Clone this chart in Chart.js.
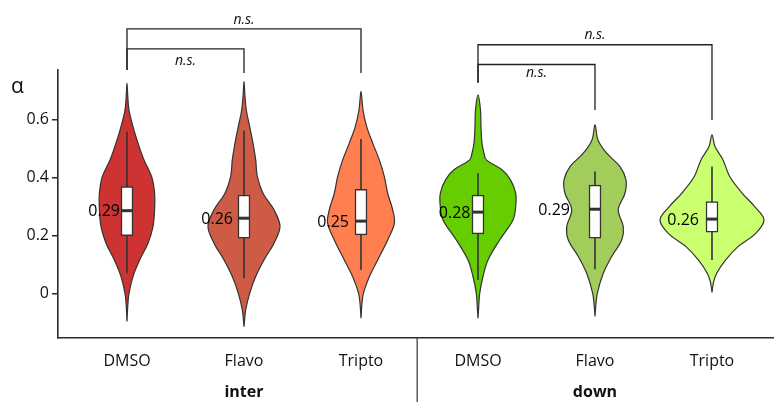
<!DOCTYPE html>
<html>
<head>
<meta charset="utf-8">
<script src="https://cdn.jsdelivr.net/npm/chart.js@4.4.1/dist/chart.umd.min.js"></script>
<style>
  html, body { margin: 0; padding: 0; background: #fff; }
</style>
</head>
<body>
<canvas id="chart" width="774" height="402"></canvas>
<script>
// categories and facets
var categories = ['DMSO', 'Flavo', 'Tripto', 'DMSO', 'Flavo', 'Tripto'];
var facets = ['inter', 'down'];
var colors = ['#CD3333', '#CD5B45', '#FF7F50', '#66CD00', '#A2CD5A', '#CAFF70'];

// y axis ticks
var yTicks = [0, 0.2, 0.4, 0.6];
var yTickLabels = ['0', '0.2', '0.4', '0.6'];

// box plot stats
var whiskerLow  = [0.071, 0.054, 0.083, 0.048, 0.085, 0.117];
var q1          = [0.201, 0.192, 0.203, 0.207, 0.192, 0.213];
var medians     = [0.287, 0.261, 0.251, 0.282, 0.292, 0.258];
var q3          = [0.370, 0.341, 0.361, 0.341, 0.375, 0.318];
var whiskerHigh = [0.560, 0.563, 0.534, 0.416, 0.422, 0.439];
var medianLabels = ['0.29', '0.26', '0.25', '0.28', '0.29', '0.26'];

// violin density profiles (levels on y, relative density)
var violinLevels = [
  [-0.095, -0.04, 0.002, 0.060, 0.117, 0.175, 0.232, 0.290, 0.347, 0.405, 0.462, 0.520, 0.577, 0.634, 0.68, 0.727],
  [-0.113, -0.055, 0.002, 0.060, 0.117, 0.175, 0.232, 0.290, 0.347, 0.405, 0.462, 0.520, 0.577, 0.634, 0.69, 0.733],
  [-0.084, -0.04, 0.002, 0.060, 0.117, 0.186, 0.244, 0.290, 0.347, 0.405, 0.462, 0.520, 0.577, 0.634, 0.698],
  [-0.084, -0.04, 0.002, 0.060, 0.117, 0.186, 0.255, 0.301, 0.347, 0.393, 0.428, 0.462, 0.485, 0.520, 0.577, 0.634, 0.686],
  [-0.078, -0.04, 0.002, 0.071, 0.129, 0.186, 0.232, 0.290, 0.347, 0.393, 0.439, 0.485, 0.531, 0.583],
  [0.005, 0.04, 0.071, 0.117, 0.163, 0.209, 0.255, 0.301, 0.347, 0.405, 0.462, 0.508, 0.548]
];
var violinDensity = [
  [0, 0.8, 2, 6, 12.7, 21, 26, 27.6, 27.6, 24.6, 17, 11, 6, 2, 0.8, 0],
  [0, 1.7, 5.7, 11.7, 20, 30, 36, 30, 19, 13.3, 11.7, 9, 5.7, 2.3, 0.8, 0],
  [0, 0.8, 2.4, 8.4, 16.7, 26.7, 33.4, 31.7, 26.7, 23.3, 18.3, 11.7, 5.7, 2, 0],
  [0, 0.8, 1.7, 5, 10, 21.7, 35, 37.7, 37.7, 32.5, 24, 8.3, 6, 4, 3, 2.5, 0],
  [0, 0.8, 2.3, 8.3, 16.7, 26.7, 28.3, 23.3, 30, 31, 25, 11.7, 3, 0],
  [0, 1.5, 4.7, 13.7, 26, 43.7, 52, 42.7, 30.3, 17.7, 11, 3, 0]
];

var DENS_SCALE = 1 / 117; // density -> x units
var FONT = "'Open Sans', sans-serif";

var datasets = [];
categories.forEach(function (c, i) {
  var lv = violinLevels[i], dn = violinDensity[i];
  var pts = [];
  for (var j = 0; j < lv.length; j++) pts.push({ x: i + dn[j] * DENS_SCALE, y: lv[j] });
  for (var k = lv.length - 2; k >= 0; k--) pts.push({ x: i - dn[k] * DENS_SCALE, y: lv[k] });
  datasets.push({
    type: 'line', data: pts, violin: true,
    backgroundColor: colors[i], borderColor: '#333', borderWidth: 1.2,
    tension: 0.35, pointRadius: 0, fill: false, order: 3, clip: false
  });
  datasets.push({
    type: 'line', data: [{ x: i, y: whiskerLow[i] }, { x: i, y: whiskerHigh[i] }],
    borderColor: '#333', borderWidth: 1.6, pointRadius: 0, fill: false, order: 2
  });
});
datasets.push({
  type: 'bar',
  data: categories.map(function (c, i) { return { x: i, y: [q1[i], q3[i]] }; }),
  backgroundColor: '#fff', borderColor: '#333', borderWidth: 1.5,
  borderSkipped: false, barThickness: 12, order: 1
});
datasets.push({
  type: 'scatter',
  data: medians.map(function (m, i) { return { x: i, y: m }; }),
  pointStyle: 'line', pointRadius: 5.5, borderColor: '#333', borderWidth: 3, order: 0
});

// fills the closed violin outline before its stroke
var violinFill = {
  id: 'violinFill',
  beforeDatasetDraw: function (chart, args) {
    var ds = chart.data.datasets[args.index];
    if (!ds.violin) return;
    var ctx = chart.ctx, line = args.meta.dataset;
    line.updateControlPoints(chart.chartArea, 'x');
    ctx.save();
    ctx.beginPath();
    line.path(ctx);
    ctx.closePath();
    ctx.fillStyle = ds.backgroundColor;
    ctx.fill();
    ctx.restore();
  }
};

var annotations = {
  id: 'annotations',
  afterDraw: function (chart, args, opts) {
    var ctx = chart.ctx, xs = chart.scales.x, ys = chart.scales.y;
    var area = chart.chartArea;
    ctx.save();
    // axis title
    ctx.fillStyle = '#111';
    ctx.font = '21px ' + FONT;
    ctx.textAlign = 'center';
    ctx.textBaseline = 'middle';
    ctx.fillText('α', 17.5, 87);

    // median labels
    ctx.font = '16px ' + FONT;
    ctx.textAlign = 'right';
    ctx.fillStyle = '#000';
    medianLabels.forEach(function (t, i) {
      ctx.fillText(t, xs.getPixelForValue(i) + opts.labelDx[i], ys.getPixelForValue(medians[i]) + 1);
    });

    // significance brackets
    ctx.strokeStyle = '#222';
    ctx.lineWidth = 1.3;
    opts.brackets.forEach(function (b) {
      var x1 = xs.getPixelForValue(b.from), x2 = xs.getPixelForValue(b.to);
      var yb = ys.getPixelForValue(b.bar);
      ctx.beginPath();
      ctx.moveTo(x1, ys.getPixelForValue(b.left));
      ctx.lineTo(x1, yb);
      ctx.lineTo(x2, yb);
      ctx.lineTo(x2, ys.getPixelForValue(b.right));
      ctx.stroke();
      ctx.font = 'italic 14px ' + FONT;
      ctx.textAlign = 'center';
      ctx.fillStyle = '#111';
      ctx.fillText('n.s.', (x1 + x2) / 2, ys.getPixelForValue(b.label));
    });

    // facet separator and labels
    var sx = xs.getPixelForValue(opts.separator);
    ctx.strokeStyle = '#333';
    ctx.lineWidth = 1.2;
    ctx.beginPath();
    ctx.moveTo(sx, area.bottom);
    ctx.lineTo(sx, chart.height);
    ctx.stroke();
    ctx.font = 'bold 16px ' + FONT;
    ctx.fillStyle = '#111';
    facets.forEach(function (f, k) {
      ctx.fillText(f, xs.getPixelForValue(1 + 3 * k), 392);
    });
    ctx.restore();
  }
};

new Chart(document.getElementById('chart'), {
  type: 'line',
  data: { datasets: datasets },
  plugins: [violinFill, annotations],
  options: {
    responsive: false,
    animation: false,
    layout: { autoPadding: false, padding: { top: 70, right: 0, left: 0, bottom: 0 } },
    plugins: {
      legend: { display: false },
      tooltip: { enabled: false },
      annotations: {
        labelDx: [-7, -11, -12, -7.5, -25, -13],
        separator: 2.48,
        brackets: [
          { from: 0, to: 2, bar: 0.914, left: 0.772, right: 0.762, label: 0.944 },
          { from: 0, to: 1, bar: 0.845, left: 0.772, right: 0.762, label: 0.802 },
          { from: 3, to: 5, bar: 0.859, left: 0.728, right: 0.600, label: 0.894 },
          { from: 3, to: 4, bar: 0.791, left: 0.728, right: 0.634, label: 0.762 }
        ]
      }
    },
    scales: {
      x: {
        type: 'linear',
        min: -0.5897,
        max: 5.53,
        offset: false,
        afterFit: function (s) { s.height = 64; s.paddingLeft = 0; s.paddingRight = 0; },
        afterBuildTicks: function (s) { s.ticks = categories.map(function (c, i) { return { value: i }; }); },
        grid: { display: false, drawTicks: false },
        border: { display: true, color: '#2b2b2b', width: 1.6 },
        ticks: {
          padding: 14,
          color: '#111',
          font: { family: FONT, size: 16 },
          callback: function (v) { return categories[v]; }
        }
      },
      y: {
        type: 'linear',
        min: -0.152,
        max: 0.772,
        afterFit: function (s) { s.width = 58; s.paddingTop = 0; s.paddingBottom = 0; },
        afterBuildTicks: function (s) { s.ticks = yTicks.map(function (v) { return { value: v }; }); },
        grid: { display: true, drawOnChartArea: false, drawTicks: true, tickLength: 6, color: '#2b2b2b', lineWidth: 1.5 },
        border: { display: true, color: '#2b2b2b', width: 1.6 },
        ticks: {
          padding: 3,
          color: '#111',
          font: { family: FONT, size: 16 },
          callback: function (v, idx) { return yTickLabels[idx]; }
        }
      }
    }
  }
});
</script>
</body>
</html>
